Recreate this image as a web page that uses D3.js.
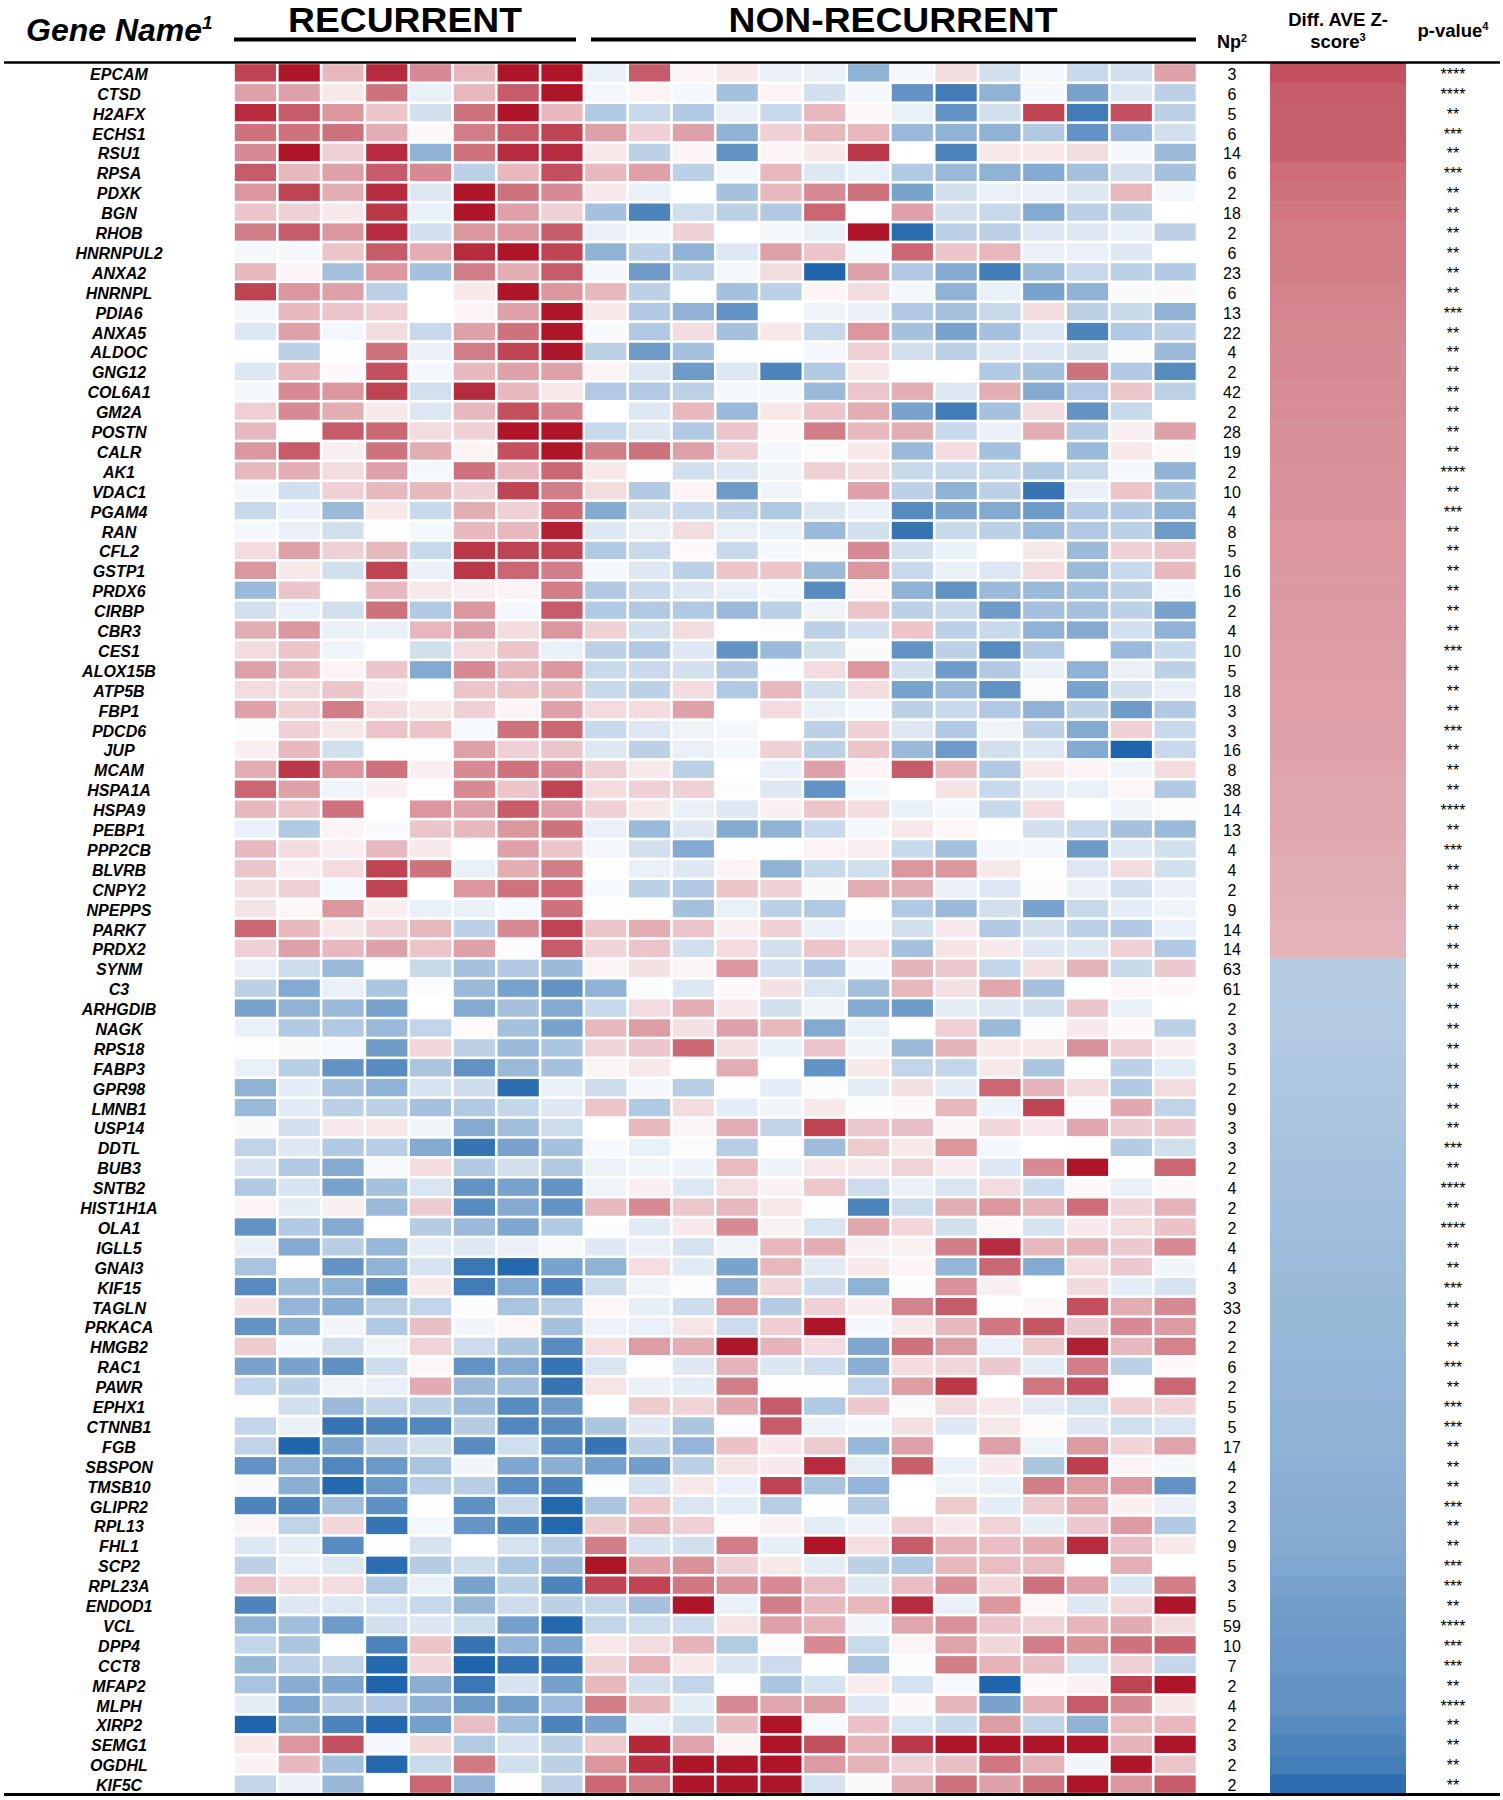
<!DOCTYPE html>
<html lang="en">
<head>
<meta charset="utf-8">
<title>Recurrent vs non-recurrent heatmap</title>
<script src="https://d3js.org/d3.v7.min.js"></script>
<style>
body { margin: 0; background: #fff; }
text { font-family: "Liberation Sans", Arial, sans-serif; fill: #000; }
</style>
</head>
<body>
<div id="chart"></div>
<script>
var geneNames = ["EPCAM","CTSD","H2AFX","ECHS1","RSU1","RPSA","PDXK","BGN","RHOB","HNRNPUL2","ANXA2","HNRNPL","PDIA6","ANXA5","ALDOC","GNG12","COL6A1","GM2A","POSTN","CALR","AK1","VDAC1","PGAM4","RAN","CFL2","GSTP1","PRDX6","CIRBP","CBR3","CES1","ALOX15B","ATP5B","FBP1","PDCD6","JUP","MCAM","HSPA1A","HSPA9","PEBP1","PPP2CB","BLVRB","CNPY2","NPEPPS","PARK7","PRDX2","SYNM","C3","ARHGDIB","NAGK","RPS18","FABP3","GPR98","LMNB1","USP14","DDTL","BUB3","SNTB2","HIST1H1A","OLA1","IGLL5","GNAI3","KIF15","TAGLN","PRKACA","HMGB2","RAC1","PAWR","EPHX1","CTNNB1","FGB","SBSPON","TMSB10","GLIPR2","RPL13","FHL1","SCP2","RPL23A","ENDOD1","VCL","DPP4","CCT8","MFAP2","MLPH","XIRP2","SEMG1","OGDHL","KIF5C"];

var npCounts = [3,6,5,6,14,6,2,18,2,6,23,6,13,22,4,2,42,2,28,19,2,10,4,8,5,16,16,2,4,10,5,18,3,3,16,8,38,14,13,4,4,2,9,14,14,63,61,2,3,3,5,2,9,3,3,2,4,2,2,4,4,3,33,2,2,6,2,5,5,17,4,2,3,2,9,5,3,5,59,10,7,2,4,2,3,2,2];

var pStars = [4,4,2,3,2,3,2,2,2,2,2,2,3,2,2,2,2,2,2,2,4,2,3,2,2,2,2,2,2,3,2,2,2,3,2,2,2,4,2,3,2,2,2,2,2,2,2,2,2,2,2,2,2,2,3,2,4,2,4,2,2,3,2,2,2,3,2,3,3,2,2,2,3,2,2,3,3,2,4,3,3,2,4,2,2,2,2];

var zScores = [7.5,7,6.9,6.9,6.8,6.2,6,5.8,5.6,5.6,5.5,5.3,5.2,5.1,5,5,4.9,4.9,4.8,4.8,4.7,4.6,4.6,4.5,4.5,4.4,4.4,4.3,4.3,4.2,4.2,4.1,4.1,4,4,3.9,3.8,3.8,3.7,3.6,3.5,3.5,3.4,3.3,3.2,
	-3.3,-3.3,-3.4,-3.4,-3.5,-3.6,-3.6,-3.7,-3.8,-3.9,-4,-4.1,-4.2,-4.2,-4.3,-4.4,-4.5,-4.6,-4.6,-4.7,-4.8,-4.8,-4.9,-5,-5,-5.1,-5.2,-5.3,-5.4,-5.5,-5.7,-6,-6.3,-6.4,-6.6,-6.7,-7,-7.1,-7.5,-8,-8.4,-9.4];

// cell values, -10 (deep blue) to 10 (deep red)
var recurrentValues = [
[8,10,3,9,5,3,10,10],
[4,4,1,6,-1,3,7,10],
[9,7,4.5,2.5,-2,6,10,3],
[6,6,6,3.5,0.3,5.5,7,8],
[5,10,2,9,-5,6,9,9],
[7,3,4,7,5,-3,3,7.5],
[4.5,8,3.5,9,-1.5,10,6,5],
[2.5,2,1,8.5,-1,10,4,2],
[5.5,7,4.5,9,-2,4.5,4.5,7],
[-0.5,-0.5,2.5,7,3.5,9,10,8],
[3,0.5,-4,4.5,-4,5.5,3.5,7],
[8,4.5,4,-3,0,1,10,4.5],
[-0.5,3,2.5,2,0,0.5,4,10],
[-1.5,4,-0.5,1.5,-2.5,4,6,10],
[0,-3,0,6,-1,5.5,8,10],
[-1.5,3,0.3,7.5,-0.5,3,4,4],
[-0.5,5,4.5,8,-2,9,3,1],
[2,5,3.5,1,-1.5,3,7.5,5],
[3,0,7,6.5,1.5,2,10,10],
[4.5,7,0.7,6,3.5,0.5,7.5,10],
[3,3.5,1.5,4,-0.5,6,3,6.5],
[-0.5,-2,2,3,3,2,8,5.5],
[-2.5,-1,-4.5,1,-2.5,3.5,2,6.5],
[-0.5,-1,-2,0,-0.5,3,3,9.5],
[1.5,4,2,3,-2.5,8.5,8,8],
[4.5,1,-2,8,-1,8.5,6.5,5.5],
[-4.5,2.5,0,3,1,0.7,0.5,5.5],
[-2,-1,-2,6,-3.5,4.5,-0.5,7],
[3.5,4.5,-1,-1,3,4,1.5,4.5],
[1.5,2.5,-0.7,0,-2,1.5,2.5,-1],
[4,3,0.5,2.5,-5.5,5,3,4.5],
[1.5,1.5,2.5,0.7,0,2.5,2.5,3],
[4,2,5.5,1.5,1,2,0.5,4],
[-0.2,2,1,2.5,2.5,-0.4,6,6.5],
[0.7,3,-2,0.1,-0.1,4,2,2.5],
[3.5,8.5,4.5,6,0.7,5,6,5],
[6.5,4,-0.7,0.7,-0.1,5,2.5,8],
[3,2.5,6,0,4.5,4,7,4],
[-1,-3.5,0.5,-0.3,2.5,3,4.5,6],
[3,1.5,0.7,3,1,0,4,2.5],
[2.5,0.7,1.5,8,6,-1,3.5,5.5],
[1.5,2,-0.4,8,0,4.5,6,6.5],
[1.2,0.4,4.5,0.7,-1,-1,-0.4,6],
[6.5,3,1,2,3,-3,5,8],
[2,4,3,4,2.5,4,0.2,7],
[-1,-2.2,-4.5,0.1,-2.5,-4,-3.5,-4.5],
[-3,-5.5,-1,-3.7,-0.2,-4.5,-6,-7],
[-6,-5,-4.5,-6,0,-5.5,-4,-5.5],
[-1,-3.5,-3.5,-4.5,-2.7,0.2,-4,-6],
[0.1,-0.3,-0.4,-6.5,1.7,-3,-4.5,-3.7],
[-1,-3.2,-7,-7.5,-3.7,-7,-4.5,-4],
[-5,-1.2,-4,-5,-1.8,-2.2,-9.5,-1],
[-4.5,-1.3,-3,-3,-4,-3.5,-2.7,-1.5],
[-0.3,-2,0.9,1,-0.7,-5.5,-4.2,-2.3],
[-2.8,-1.5,-3.5,-3.2,-5.5,-9,-6,-4],
[-1.8,-3.5,-5.5,-0.4,1.5,-3.5,-2,-3.5],
[-3.5,-1.8,-6,-4,-1.7,-7,-6,-7],
[0.5,-1.2,0.7,-4.5,2.2,-7.5,-5.5,-7],
[-7,-3.5,-5.5,0,-3.3,-4.5,-5.8,-3.5],
[-1,-5.5,-3.2,-4.7,-1.2,-1.5,-1,-0.4],
[-3.8,-0.1,-7,-5,-1.8,-8.8,-9.8,-6],
[-7.5,-4.3,-5,-7,1,-8.5,-5.5,-8],
[1.3,-4.8,-5.3,-3.2,-2.7,-0.2,-3.8,-3.2],
[-7,-5.2,-0.6,-3.5,2.7,-0.6,0.4,-4],
[2.2,-0.5,-2,-0.7,1.9,-2.2,-3.7,-7.5],
[-6,-6,-7.2,-2.2,0.4,-7,-5.5,-9],
[-2.7,-3,-0.7,-1,3.6,-4.5,-4.2,-9],
[-0.1,-2,-4.5,-2.8,-3,-4.5,-7.5,-6.5],
[-2.7,-1,-9,-8,-7.7,-3.3,-7.7,-7.5],
[-2.8,-10,-5.8,-3,-2,-7.5,-2.1,-7.5],
[-7,-5,-7.8,-6.7,-3.8,-0.6,-5.8,-5.2],
[-0.3,-5.2,-9.8,-6.7,-3.2,-3.2,-7.4,-8],
[-8,-8,-4.2,-7.2,-0.1,-7.2,-2.5,-9.8],
[0.5,-2.8,1.7,-9,-0.5,-6.8,-8,-9.8],
[-1.5,-1.2,-7.5,0.1,-1.8,0,-1.9,-3.2],
[-3,-1,-1.5,-9.5,-3.3,-2.2,-3.6,-4.5],
[2.5,1.5,1.5,-3.5,-1,-6,-3,-8],
[-8,-1.5,-1.5,-1.9,-2.5,-4.6,-2.2,-3],
[-5,-4.2,-6.5,-2,-1.6,-2.3,-6.2,-9.8],
[-2.7,-3.7,0.1,-8,2.5,-9,-4.8,-5.8],
[-4.6,-2.9,-2.8,-9.8,1.7,-10,-9.2,-9],
[-3.8,-5.3,-5.8,-10,-5.2,-8.8,-1.8,-6.2],
[-1.2,-5.7,-3.3,-3.5,-5,-6.5,-6.2,-4.4],
[-10,-5,-8,-9.8,-6.2,2.8,-4.2,-8],
[1,4.5,7.5,-0.5,1.6,-3.4,-1.8,-3],
[0.6,3,-4,-9.8,-2.4,5.7,-2,-3],
[-2.7,-1,-4.6,0,6.5,-4.8,-0.1,-2.9]
];

var nonRecurrentValues = [
[-1,7,0.5,1,-1,-1,-5,-0.5,1.5,-2,-0.5,-2.5,-2,4],
[-0.5,0.5,-0.5,-4,0.5,-2,-0.5,-7,-8.5,-5,-0.5,-6,-1.5,-3],
[-3.5,-2.5,-3.5,-1,-2.5,3,0.3,-1,-7,-2,8,-8.5,7.5,-3],
[4,2,4,-5,2,3,3,-4.5,-5,-5,-3.5,-7,-4.5,-2],
[1,-3,0.5,-7,0.5,1,8.5,0,-8,1,1,1.5,-0.5,-4.5],
[3,4,-3,-0.5,3,-1.5,-1,-3.5,-4.5,-5,-5.5,-4,-2,-4],
[1,-1,0,-4,3,5,6,-6,-2,-1,-1,-1.5,3,-0.5],
[-4,-8,-2,-3,-3.5,6.5,0,4,-2,-2.5,-5.5,-3,-3,0],
[-1,-0.5,2,0,-0.5,-1,10,-9.5,-3,-3,-1.5,-1.5,-1,-3],
[-5,-3,-5,-1.5,4,2.5,-0.5,6.5,2.5,3,-1,-1,-1.5,0],
[-0.5,-6.5,-3,-0.5,1.5,-10,4,-3.5,-5.5,-8.5,-4.5,-2.5,-3,-3.5],
[3,-3,0,-4,-3,0.5,1.5,-0.5,-5,-1,-6,-5,-0.3,0.3],
[1,-3.5,-5,-7,0,-0.7,-1,-3.5,-4,-2.5,1.5,-3,-2.5,-5],
[-0.3,-3.5,1.5,-4,1,-2.5,4.5,-4,-6,-4,-1.5,-8,-3.5,-3],
[-3,-6.5,-4,0,0,-0.5,2,-2,-3,-1.5,-1.5,-2,-0.2,-4.5],
[0.5,-1.5,-6.5,-1.5,-8,-3.5,1,0,0,-3.5,-4,6,-3.5,-7.5],
[-3.5,-3.5,-3,-0.5,-0.5,-4.5,2.5,3.5,-1.5,3.5,-5.5,-3.5,2.5,-3],
[0,-1.5,3,-4.5,1,2.5,3.5,-6,-8.5,-4,1.5,-7,-2.5,0],
[-2.5,-1.5,-3.5,2.5,0.3,5.5,3,3.5,-2.5,-1,3.5,-3.5,0.7,4],
[5.5,6,4,2,-0.5,0.2,1,-4.5,1.5,-4,0,-4.5,1,0.3],
[1,0.1,-2,-1.5,-0.7,2,1.5,-2.5,-2.5,-2.5,-3.5,-2.5,-0.5,-5],
[1.5,-3.5,0.5,-6.5,-0.7,0,4,-3,-5,-3,-9,-1,2.5,-4],
[-5.5,-2,-2.5,-3,-3.5,-1.5,-1,-7.5,-6,-5.5,-6.5,-3.5,-3.5,-5],
[-1.5,-1,1.5,-1,-1,-4.5,-2,-9,-2.5,-3,-4.5,-3.5,-3,-6.5],
[-3.5,-2.5,0.3,-2.5,-0.5,-0.3,5,-2,-1,0,1,-4.5,2,2.5],
[-0.5,-1.5,-3,2.5,2.5,-4.5,4.5,-2.5,-1,-1.5,1.5,-4.5,-2.5,3],
[-3.5,-2.5,-1.5,-1,-0.5,-7.5,0.5,-5,-7,-4.5,-4.5,-4,-3,-0.5],
[-3.5,-3.5,-3.5,-4.5,-3,-0.7,2.5,-3,-2.5,-6.5,-4,-4,-3,-6],
[2,-2,1.5,0,-0.2,-3,-2,2.5,-3,-2.5,-5,-5.5,-2,-5],
[-3,-3.5,-1.5,-7,-4.5,-2,-0.3,-7,-3,-7.5,-3.5,0,-4.5,-2.5],
[-2.5,-2.5,-2,-3.5,-0.2,1.5,4.5,-2,-6.5,-3.5,-1,-5,-1,-3],
[-2.5,-3,1.5,-3.5,3,-2,1.5,-6,-4.5,-7,-0.2,-6,-2,-1],
[1.5,1.5,4,0,1.5,-1,-0.5,-3,-2.5,-3.5,-5,-3,-6.5,-3.5],
[-2.5,-1.5,-0.7,-0.5,0,-3,2,-1.5,-3.5,-0.7,-3,-5.5,2,-2.5],
[-1.5,-3,-1,-0.5,2,-3,2.5,-4.5,-6.5,-2,-1.5,-5.5,-10,-2.5],
[2,1,-3,0,-1,4,0.5,7,3,-3.5,1,0.5,-0.7,1.5],
[1.5,2,2,-0.2,-1.5,-7,-0.5,0,1.2,-2.5,-1.2,-1,0.4,-3.5],
[2,1,-1,-1.5,0.7,2.5,1.5,-1,-0.5,-2.5,1.5,0,-0.7,0.2],
[-1,-4.5,-1.5,-5.5,-5,-2.5,-0.5,1,0.4,0,-2,-2.5,-4,-4.5],
[-0.5,-2,-5.5,-0.1,-0.1,0.5,0.7,-2.5,-4,-0.5,-0.5,-6.5,-1.5,-2],
[0.1,-1,-1.5,0.5,-5,-2.5,-2,4.5,4.5,1,-0.1,-1.5,1.5,-2],
[-0.4,-3,-3.5,2.5,2,-0.3,3.5,3.5,-1,-1.5,0.2,-1,-2,-1],
[0.1,0.1,-4,-1,-3,-3.5,0.1,-3.5,-4.5,-2,-6,-2.5,-1.2,-0.7],
[2.5,3.5,2.5,0.7,2,-1,-0.4,-2,0.9,-3.5,-2,-3,-3.5,-1],
[1.8,2.5,-2,1.5,-2,2.5,1.5,-4,1.2,1,-1.5,-1.5,2,-3.5],
[0.5,1.3,0.5,4.5,-2,-3.5,-0.5,3.2,2.3,-2.7,1.3,3.2,-2.5,2.3],
[-5,-0.2,-1.5,0.3,1.3,-1.7,-4,3,1.3,3.7,-4,0,0.4,0.3],
[-2.5,1.5,3.5,0.9,-2,-0.7,-5.5,-6.5,-1.2,-1.5,-2,2.5,-1,0],
[3,4.2,1.3,4,3,-5.5,-1,0,2,-4.5,0.2,0.9,0.3,-3],
[1.8,2.5,6.5,1.3,-1,2.5,-0.7,-4.5,3.2,1,1,4.7,2,0.7],
[0.5,1,0,3.5,0,-7,1,-2.7,-2.7,1,-3.7,0,-3,-1.2],
[-2.3,-0.5,-3.2,0,-1.2,-0.2,-1.2,1.3,-1.2,6.5,3.2,1.5,-3.5,1.5],
[2.5,-3.5,1.5,-1.2,-0.6,1,-0.2,0.3,3,-0.8,8,-0.2,3.7,-2.8],
[0,3,0.5,3.5,-2.8,8,2.3,2.7,0.5,1.7,0.9,3.7,2.2,2.3],
[-0.4,-1,0.2,-3.2,0.1,-4.3,2.2,1,4.5,-0.5,0,-0.1,-3.3,-2],
[-0.8,-0.7,-0.8,2.9,-0.8,1,0.9,1.9,0.8,-1.5,5,10,0,6.5],
[-0.7,0.7,-1.5,1.4,0.6,2.4,-2.3,-1,-1.7,1.5,-2.2,0.3,-1,0.3],
[3,5,2.4,3,1,-0.1,-8,-2.3,3.5,4.5,3.2,6.2,1.8,3.3],
[-0.2,-1.3,0.9,5,0.6,-1.7,3.8,1.7,-2,0.4,-1.8,0.9,1.5,2.6],
[-1.4,-1,-1.9,-0.7,3,3.5,0.7,0.6,5.5,9,3,3.2,2.3,5],
[-5,1.4,-1.3,-6,3,-1.3,1,0.5,-4.8,6.5,-5.5,1.5,2.3,-0.6],
[-2.2,-0.7,-0.2,-5.3,1.7,-2.2,-5,0.2,4.7,0.7,0,1.6,-1.2,-1.8],
[0.4,-1.1,-2.2,4.5,-3.3,2,0.8,5.3,7,0.1,0.4,7.5,3.5,5],
[-0.8,-1,1.1,-2.3,2.1,10,-0.5,1,3,5.8,7.2,2.3,5,4.3],
[1.4,4.2,3.5,10,3.2,1.5,-5.8,6,4.2,-1,2.2,9.5,3,5.3],
[-1.7,-0.1,-1.4,3.2,-1.6,-2.2,-5.2,1.5,1.7,2.3,-1.2,5.5,-3,0.3],
[1.1,-0.9,-1.2,5.5,0.1,0.1,-2.8,4.2,8.5,0,5.8,7.5,0.1,6.5],
[-0.1,2.2,1.9,3.7,7,-3.5,2.3,-0.3,1.5,1,-1.2,-1.9,2,1.8],
[-3.7,-1.4,-3.7,-0.2,7,-0.8,-0.5,1.3,-1.4,1,0.2,-1.4,-2.1,-1.7],
[-9,-3,-4.8,2.6,0.9,2.2,-4.6,4,0,4,-0.7,4.3,1.8,3.9],
[-6.2,-6.3,-3,1.2,0.9,9,-1.1,6.8,-1,0.9,-3.7,8.2,0.5,-0.5],
[-0.2,-1.8,1,-1,8,-3.8,-4.8,0,-0.7,-1,5.5,4.2,4.3,-7],
[-3.7,2.4,-1.6,-1.2,-3.2,0,-3.3,0,2.2,-1.2,2.2,3.5,0.7,-0.9],
[2.2,3,2,0.2,0.6,-1.2,-0.8,2,0.9,1.9,-1.1,2.3,4.3,-3.5],
[5.5,-1.8,-2,5.5,-1.1,10,1.4,7,3.3,2.8,3.5,9,2.8,1],
[10,4,4.7,2,1,-1.2,-3,-3.5,3,2.8,2.8,0,3.4,0],
[8,8,5.8,4.7,5,2.8,-1.5,2.8,4.8,1.7,6,4,-1.7,5.5],
[-2.7,-4,10,-1,5.5,3,3,9,-1,4.5,0.4,-1.5,1.7,10],
[-2.7,-2.3,-2.2,1.2,4,3.2,-0.6,3.8,4.7,2.5,1.9,3.1,3.6,1.5],
[1,1.5,3.2,-3.4,0.2,5,-2.4,0.5,3.9,1.7,5.6,4.7,6,6.8],
[1.8,3.3,1,-1.6,-2.3,0,-3.8,-0.2,5.5,3.3,2.7,-1.7,2,-2.6],
[3,-2,-2.7,-0.1,-3.7,-1.9,0.8,-1.9,-0.4,-10,0.3,0.6,8,10],
[5.5,3,-1.2,5,3.8,4.2,-1.5,0.3,3.1,-6,3.3,7,5,1],
[-6,-1,-2,3,10,-0.4,2.6,-1.7,-2.5,4.2,-2.8,-5,2.9,3],
[2.2,9.2,3.9,0.5,10,7.5,3.2,8.5,10,10,10,10,3.2,10],
[4.5,8.8,10,10,10,4.3,3.2,2,2.7,5.8,3.3,-0.6,10,2.5],
[6.5,5.5,10,10,10,-1.8,-0.3,3.4,6,4,6,10,4.5,7]
];

var width = 1503, height = 1800;
var svg = d3.select("#chart").append("svg").attr("width", width).attr("height", height);

var nCols = recurrentValues[0].length + nonRecurrentValues[0].length;
var xCell = d3.scaleBand().domain(d3.range(nCols)).range([233.5, 1197]).paddingInner(0.06).paddingOuter(0.03);
var yRow = d3.scaleBand().domain(geneNames).range([63, 1794]).paddingInner(0.13).paddingOuter(0.06);
var color = d3.scaleLinear().domain([-10, 0, 10]).range(["#2065ab", "#ffffff", "#ae1528"]);

// heat map cells, both groups share the same column scale
var rows = svg.append("g").selectAll("g")
	.data(geneNames)
	.join("g")
	.attr("transform", function(d) { return "translate(0," + yRow(d) + ")"; });

rows.selectAll("rect")
	.data(function(d, i) { return recurrentValues[i].concat(nonRecurrentValues[i]); })
	.join("rect")
	.attr("x", function(d, i) { return xCell(i); })
	.attr("width", xCell.bandwidth())
	.attr("height", yRow.bandwidth())
	.attr("fill", function(d) { return color(d); });

// Diff. AVE z-score strip, no gaps between rows
var yStrip = d3.scaleBand().domain(geneNames).range([63, 1794]);
svg.append("g").selectAll("rect")
	.data(zScores)
	.join("rect")
	.attr("x", 1270)
	.attr("width", 136)
	.attr("y", function(d, i) { return yStrip(geneNames[i]); })
	.attr("height", yStrip.bandwidth() + 0.5)
	.attr("fill", function(d) { return color(d); });

// row text
var baseline = function(d) { return yRow(d) + yRow.bandwidth() / 2 + 7; };

svg.append("g").selectAll("text")
	.data(geneNames)
	.join("text")
	.attr("x", 119)
	.attr("y", baseline)
	.attr("text-anchor", "middle")
	.attr("font-size", 16)
	.attr("font-weight", "bold")
	.attr("font-style", "italic")
	.text(function(d) { return d; });

svg.append("g").selectAll("text")
	.data(npCounts)
	.join("text")
	.attr("x", 1232)
	.attr("y", function(d, i) { return baseline(geneNames[i]); })
	.attr("text-anchor", "middle")
	.attr("font-size", 16)
	.text(function(d) { return d; });

svg.append("g").selectAll("text")
	.data(pStars)
	.join("text")
	.attr("x", 1453)
	.attr("y", function(d, i) { return baseline(geneNames[i]); })
	.attr("text-anchor", "middle")
	.attr("font-size", 16)
	.text(function(d) { return "*".repeat(d); });

// header
function header(label, sup, x, y, size, italic, anchor, fitWidth) {
	var t = svg.append("text")
		.attr("x", x).attr("y", y)
		.attr("text-anchor", anchor || "middle")
		.attr("font-size", size)
		.attr("font-weight", "bold")
		.attr("font-style", italic ? "italic" : "normal")
		.text(label);
	if (fitWidth) {
		t.attr("textLength", fitWidth).attr("lengthAdjust", "spacingAndGlyphs");
	}
	if (sup) {
		t.append("tspan")
			.attr("font-size", size * 0.6)
			.attr("dy", -size * 0.36)
			.text(sup);
	}
}

header("Gene Name", "1", 26, 41, 32, true, "start");
header("RECURRENT", null, 405, 32, 35, false, "middle", 234);
header("NON-RECURRENT", null, 893, 32, 35, false, "middle", 329);
header("Np", "2", 1232, 48, 18);
header("Diff. AVE Z-", null, 1338, 26, 18.5);
header("score", "3", 1338, 48, 18.5);
header("p-value", "4", 1453, 37, 18.5);

// rules
var lines = [[234, 576, 39.5, 4], [591, 1196, 39.5, 4], [4, 1500, 62.5, 2.5], [4, 1500, 1794.5, 3]];
svg.append("g").selectAll("line")
	.data(lines)
	.join("line")
	.attr("x1", function(d) { return d[0]; })
	.attr("x2", function(d) { return d[1]; })
	.attr("y1", function(d) { return d[2]; })
	.attr("y2", function(d) { return d[2]; })
	.attr("stroke", "#000")
	.attr("stroke-width", function(d) { return d[3]; });
</script>
</body>
</html>
